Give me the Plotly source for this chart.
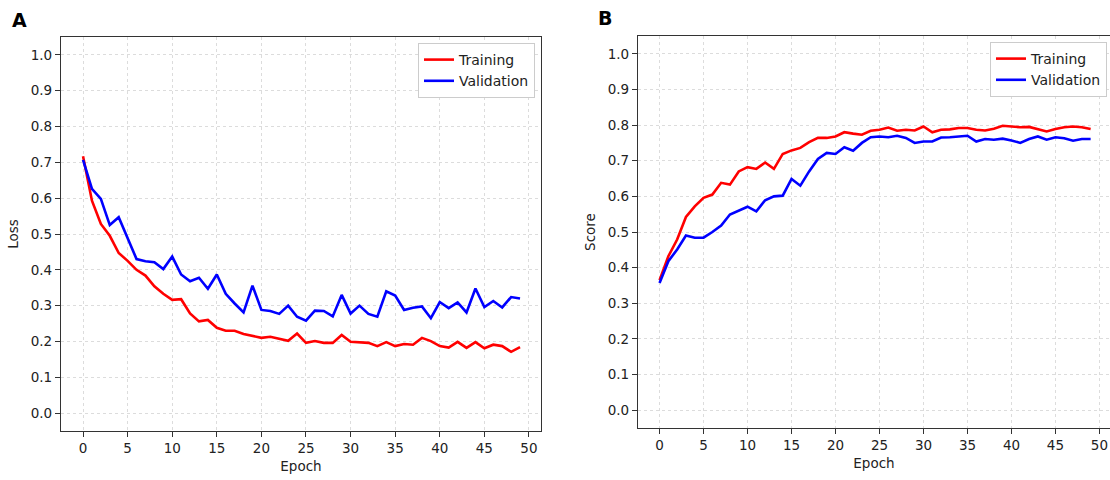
import plotly.graph_objects as go

epochs = list(range(50))

loss_train = [0.717, 0.593, 0.528, 0.495, 0.447, 0.425, 0.400, 0.384, 0.354, 0.333,
              0.316, 0.318, 0.278, 0.256, 0.260, 0.238, 0.230, 0.230, 0.221, 0.216,
              0.210, 0.213, 0.207, 0.202, 0.222, 0.196, 0.201, 0.196, 0.196, 0.218,
              0.199, 0.198, 0.196, 0.187, 0.198, 0.187, 0.193, 0.191, 0.210, 0.201,
              0.187, 0.183, 0.199, 0.182, 0.198, 0.181, 0.191, 0.187, 0.171, 0.184]
loss_val = [0.707, 0.626, 0.598, 0.525, 0.547, 0.486, 0.430, 0.424, 0.421, 0.402,
            0.437, 0.387, 0.368, 0.378, 0.347, 0.387, 0.333, 0.306, 0.281, 0.356,
            0.288, 0.285, 0.277, 0.300, 0.269, 0.258, 0.286, 0.285, 0.270, 0.330,
            0.278, 0.300, 0.277, 0.269, 0.340, 0.328, 0.288, 0.294, 0.298, 0.265,
            0.310, 0.293, 0.309, 0.281, 0.348, 0.296, 0.313, 0.295, 0.324, 0.320]

score_train = [0.365, 0.432, 0.479, 0.542, 0.572, 0.596, 0.605, 0.638, 0.633, 0.670,
               0.682, 0.677, 0.695, 0.677, 0.719, 0.729, 0.736, 0.752, 0.764, 0.764,
               0.768, 0.780, 0.776, 0.773, 0.784, 0.787, 0.793, 0.784, 0.787, 0.785,
               0.796, 0.780, 0.787, 0.788, 0.792, 0.792, 0.787, 0.785, 0.790, 0.798,
               0.796, 0.794, 0.795, 0.788, 0.782, 0.789, 0.794, 0.796, 0.794, 0.789]
score_val = [0.357, 0.418, 0.451, 0.490, 0.484, 0.484, 0.500, 0.518, 0.549, 0.561,
             0.571, 0.558, 0.589, 0.600, 0.602, 0.649, 0.630, 0.670, 0.705, 0.722,
             0.719, 0.738, 0.728, 0.750, 0.766, 0.768, 0.766, 0.770, 0.764, 0.750,
             0.754, 0.754, 0.765, 0.766, 0.768, 0.770, 0.754, 0.761, 0.759, 0.762,
             0.757, 0.750, 0.761, 0.768, 0.759, 0.766, 0.763, 0.756, 0.761, 0.761]

y_ticks = [round(i * 0.1, 1) for i in range(11)]
x_ticks = list(range(0, 51, 5))

W, H = 1110, 480
FONT = "DejaVu Sans"

def px(x0, x1):
    return [x0 / W, x1 / W]

def py(top, bottom):
    return [1 - bottom / H, 1 - top / H]

def pxx(x):
    return x / W

def pyy(y):
    return 1 - y / H

fig = go.Figure()
fig.add_trace(go.Scatter(x=epochs, y=loss_train, mode="lines", name="Training",
                         line=dict(color="#ff0000", width=2.6), xaxis="x", yaxis="y",
                         legend="legend"))
fig.add_trace(go.Scatter(x=epochs, y=loss_val, mode="lines", name="Validation",
                         line=dict(color="#0000ff", width=2.6), xaxis="x", yaxis="y",
                         legend="legend"))
fig.add_trace(go.Scatter(x=epochs, y=score_train, mode="lines", name="Training",
                         line=dict(color="#ff0000", width=2.6), xaxis="x2", yaxis="y2",
                         legend="legend2"))
fig.add_trace(go.Scatter(x=epochs, y=score_val, mode="lines", name="Validation",
                         line=dict(color="#0000ff", width=2.6), xaxis="x2", yaxis="y2",
                         legend="legend2"))

axis_common = dict(showline=True, linecolor="#333333", linewidth=1.3, mirror=True,
                   ticks="outside", ticklen=5, tickwidth=1.2, tickcolor="#333333",
                   showgrid=True, gridcolor="#dcdcdc", griddash="dot", gridwidth=1,
                   zeroline=False, tickfont=dict(family=FONT, size=13.5, color="#222222"),
                   automargin=False)

fig.update_layout(
    width=W, height=H,
    margin=dict(l=0, r=0, t=0, b=0),
    paper_bgcolor="white", plot_bgcolor="white",
    font=dict(family=FONT, size=13, color="#222222"),
    xaxis=dict(domain=px(61, 541), range=[-2.47, 51.35], tickvals=x_ticks, anchor="y",
               title=dict(text="Epoch", font=dict(family=FONT, size=13.5), standoff=6),
               **axis_common),
    yaxis=dict(domain=py(37, 431), range=[-0.05, 1.05], tickvals=y_ticks, tickformat=".1f",
               anchor="x", title=dict(text="Loss", font=dict(family=FONT, size=13.5), standoff=8),
               **axis_common),
    xaxis2=dict(domain=px(638, 1110), range=[-2.45, 51.2], tickvals=x_ticks, anchor="y2",
                title=dict(text="Epoch", font=dict(family=FONT, size=13.5), standoff=6),
                **axis_common),
    yaxis2=dict(domain=py(36, 428), range=[-0.05, 1.05], tickvals=y_ticks, tickformat=".1f",
                anchor="x2", title=dict(text="Score", font=dict(family=FONT, size=13.5), standoff=8),
                **axis_common),
    legend=dict(x=pxx(535), y=pyy(43), xanchor="right", yanchor="top",
                bgcolor="white", bordercolor="#cccccc", borderwidth=1,
                font=dict(family=FONT, size=14, color="#222222"), tracegroupgap=0),
    legend2=dict(x=pxx(1107), y=pyy(42), xanchor="right", yanchor="top",
                 bgcolor="white", bordercolor="#cccccc", borderwidth=1,
                 font=dict(family=FONT, size=14, color="#222222"), tracegroupgap=0),
    showlegend=True,
    annotations=[
        dict(text="<b>A</b>", x=pxx(19), y=pyy(20), xref="paper", yref="paper",
             xanchor="center", yanchor="middle",
             showarrow=False, font=dict(family=FONT, size=19, color="black")),
        dict(text="<b>B</b>", x=pxx(605), y=pyy(18), xref="paper", yref="paper",
             xanchor="center", yanchor="middle",
             showarrow=False, font=dict(family=FONT, size=19, color="black")),
    ],
)

fig.write_html("out.html",
               config={"displayModeBar": False},
               post_script="document.body.style.margin='0';document.body.style.overflow='hidden';")
